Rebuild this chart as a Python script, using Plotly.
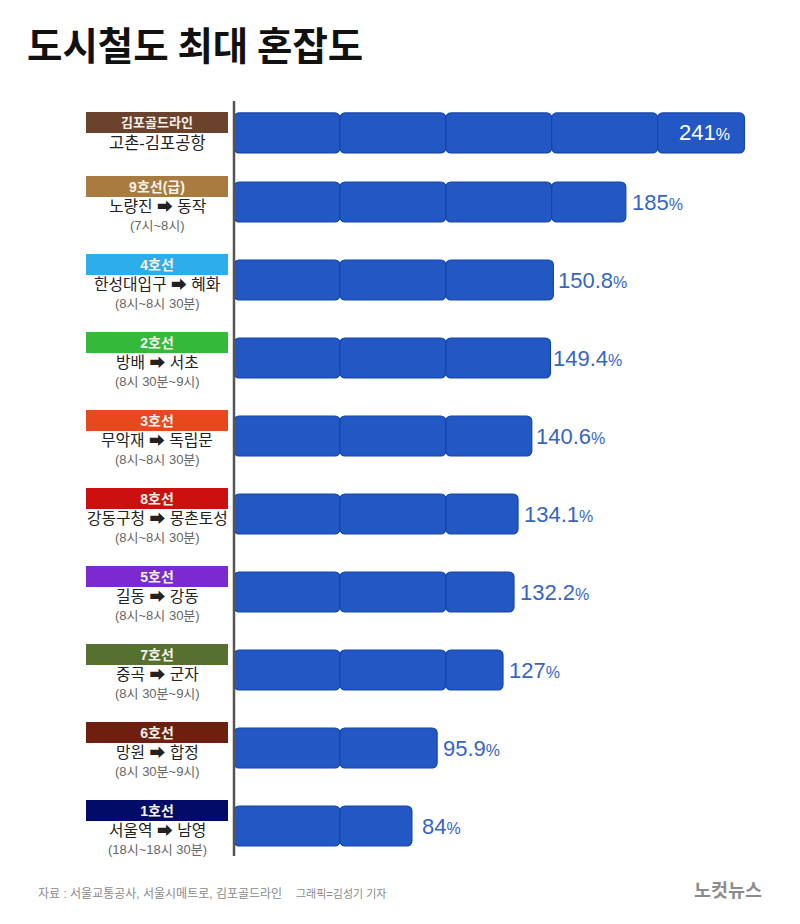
import math
import plotly.graph_objects as go

lines = ["김포골드라인", "9호선(급)", "4호선", "2호선", "3호선", "8호선", "5호선", "7호선", "6호선", "1호선"]
routes = ["고촌-김포공항", "노량진 ➡ 동작", "한성대입구 ➡ 혜화", "방배 ➡ 서초", "무악재 ➡ 독립문",
          "강동구청 ➡ 몽촌토성", "길동 ➡ 강동", "중곡 ➡ 군자", "망원 ➡ 합정", "서울역 ➡ 남영"]
times = ["", "(7시~8시)", "(8시~8시 30분)", "(8시 30분~9시)", "(8시~8시 30분)",
         "(8시~8시 30분)", "(8시~8시 30분)", "(8시 30분~9시)", "(8시 30분~9시)", "(18시~18시 30분)"]
values = [241, 185, 150.8, 149.4, 140.6, 134.1, 132.2, 127, 95.9, 84]
value_labels = ["241", "185", "150.8", "149.4", "140.6", "134.1", "132.2", "127", "95.9", "84"]
line_colors = ["#6b432c", "#a87c40", "#2daeea", "#35b93a", "#e9481c",
               "#cc1010", "#7a2ad0", "#55702f", "#6e1f10", "#000c66"]
source_text = "자료 : 서울교통공사, 서울시메트로, 김포골드라인"
credit_text = "그래픽=김성기 기자"

# layout constants
W, H = 800, 924
UNIT = 50
PX_PER_VALUE = 2.118
X_ZERO = 234
ROW_PX = 78
KR = "Noto Sans CJK KR"
MIX = "Liberation Sans, Noto Sans CJK KR"
slots = [0.115] + list(range(1, 10))
BLUE, EDGE = "#2358c4", "#1445a8"

x_range = [-X_ZERO / PX_PER_VALUE, (W - X_ZERO) / PX_PER_VALUE]
y_top = 1 - 202 / ROW_PX
y_range = [y_top + H / ROW_PX, y_top]

fig = go.Figure()
n_seg = [math.ceil((v - 1) / UNIT) for v in values]
for k in range(max(n_seg)):
    idx = [i for i, n in enumerate(n_seg) if n > k]
    fig.add_trace(go.Bar(
        orientation="h",
        y=[slots[i] for i in idx],
        base=[UNIT * k for i in idx],
        x=[(values[i] if n_seg[i] == k + 1 else UNIT * (k + 1)) - UNIT * k for i in idx],
        width=40 / ROW_PX,
        marker=dict(color=BLUE, line=dict(color=EDGE, width=1.2)),
        hoverinfo="skip",
        showlegend=False,
    ))

ann = []
box_shift = [10.5] + [15.5] * 9
route_shift = [-10] + [-4] * 9
for i, s in enumerate(slots):
    ann.append(dict(x=157 / W, xref="paper", y=s, yref="y", yshift=box_shift[i], xanchor="center",
                    yanchor="middle", text=f"<b>{lines[i]}</b>", width=142, height=21, bgcolor=line_colors[i],
                    borderpad=0, borderwidth=0, showarrow=False,
                    font=dict(family=MIX, size=13 if i == 0 else 14, color="#f6f2ea")))
    ann.append(dict(x=157 / W, xref="paper", y=s, yref="y", yshift=route_shift[i], xanchor="center",
                    yanchor="middle", text=routes[i], showarrow=False,
                    font=dict(family=MIX, size=16.5 if i == 0 else 15.8, color="#222222")))
    if times[i]:
        ann.append(dict(x=157 / W, xref="paper", y=s, yref="y", yshift=-23, xanchor="center",
                        yanchor="middle", text=times[i], showarrow=False,
                        font=dict(family=MIX, size=13, color="#666666")))

label_shift = [-67, 4, 3, 1, 2, 4, 4, 4, 4, 8]
for i, s in enumerate(slots):
    ann.append(dict(x=values[i], xref="x", y=s, yref="y", yshift=0, xshift=label_shift[i], xanchor="left",
                    yanchor="middle", showarrow=False,
                    text=f'{value_labels[i]}<span style="font-size:16px">%</span>',
                    font=dict(family="Liberation Sans", size=22,
                              color="#ffffff" if i == 0 else "#3765c4")))

ann.append(dict(x=25 / W, xref="paper", y=1 - 43 / H, yref="paper", xanchor="left", yanchor="middle",
                text="<b>도시철도 최대 혼잡도</b>", showarrow=False,
                font=dict(family=KR, size=38.5, color="#111111")))
ann.append(dict(x=36 / W, xref="paper", y=1 - 894 / H, yref="paper", xanchor="left", yanchor="middle",
                text=source_text, showarrow=False,
                font=dict(family=MIX, size=12, color="#8a8a8a")))
ann.append(dict(x=294 / W, xref="paper", y=1 - 894 / H, yref="paper", xanchor="left", yanchor="middle",
                text=credit_text, showarrow=False,
                font=dict(family=MIX, size=11, color="#8a8a8a")))
ann.append(dict(x=728 / W, xref="paper", y=1 - 889 / H, yref="paper", xanchor="center", yanchor="middle",
                text="<b>노컷뉴스</b>", showarrow=False,
                font=dict(family=KR, size=18.5, color="#8c8c8c")))

fig.add_shape(type="line", xref="x", x0=0, x1=0, yref="paper", y0=1 - 101 / H, y1=1 - 856 / H,
              line=dict(color="#555555", width=2.5), layer="above")

fig.update_layout(
    width=W, height=H, margin=dict(l=0, r=0, t=0, b=0),
    barmode="overlay", barcornerradius=5,
    plot_bgcolor="white", paper_bgcolor="white",
    xaxis=dict(range=x_range, visible=False, fixedrange=True),
    yaxis=dict(range=y_range, visible=False, fixedrange=True),
    annotations=ann,
)
fig.write_html("out.html", config={"displayModeBar": False},
               post_script="document.body.style.margin='0';document.body.style.overflow='hidden';")
